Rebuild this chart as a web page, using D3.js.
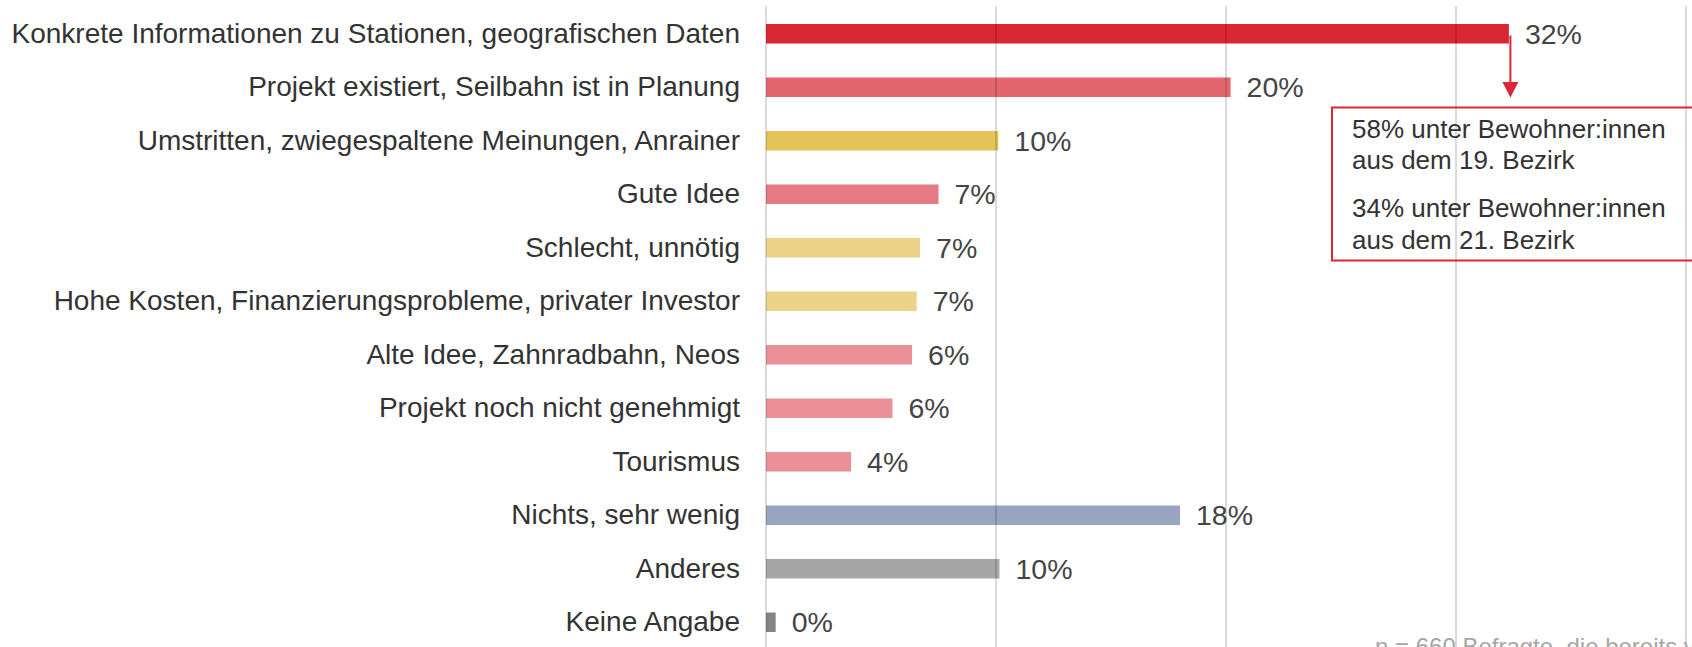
<!DOCTYPE html>
<html>
<head>
<meta charset="utf-8">
<script src="https://cdn.jsdelivr.net/npm/d3@7"></script>
<style>
  body { margin: 0; background: #fff; }
  svg { display: block; font-family: "Liberation Sans", Arial, sans-serif; }
</style>
</head>
<body>
<svg width="1692" height="647"></svg>
<script>
// Data
var categories = [
  "Konkrete Informationen zu Stationen, geografischen Daten",
  "Projekt existiert, Seilbahn ist in Planung",
  "Umstritten, zwiegespaltene Meinungen, Anrainer",
  "Gute Idee",
  "Schlecht, unnötig",
  "Hohe Kosten, Finanzierungsprobleme, privater Investor",
  "Alte Idee, Zahnradbahn, Neos",
  "Projekt noch nicht genehmigt",
  "Tourismus",
  "Nichts, sehr wenig",
  "Anderes",
  "Keine Angabe"
];
var values = [32.3, 20.2, 10.1, 7.5, 6.7, 6.55, 6.35, 5.5, 3.7, 18.0, 10.15, 0.42];
var valueLabels = ["32%", "20%", "10%", "7%", "7%", "7%", "6%", "6%", "4%", "18%", "10%", "0%"];
var colors = ["#d92834", "#e3666f", "#e5c359", "#e67b83", "#edd388", "#edd388",
              "#eb9096", "#eb9096", "#eb9096", "#98a5c0", "#a6a6a6", "#858585"];
var gridTicks = [0, 10, 20, 30, 40];
var noteLines = [
  ["58% unter Bewohner:innen", "aus dem 19. Bezirk"],
  ["34% unter Bewohner:innen", "aus dem 21. Bezirk"]
];
var footnote = "n = 660 Befragte, die bereits von der Seilbahn gehört haben";

var svg = d3.select("svg"),
    width = +svg.attr("width"),
    height = +svg.attr("height");

var x = d3.scaleLinear()
    .domain([0, 40])
    .range([766, 1686]);

var y = d3.scaleBand()
    .domain(categories)
    .range([7, 649])
    .paddingInner(0.635)
    .paddingOuter(0.3175);

// Bars
svg.append("g")
  .selectAll("rect")
  .data(categories)
  .enter()
  .append("rect")
    .attr("x", x(0))
    .attr("y", function(d){ return y(d) })
    .attr("width", function(d, i){ return x(values[i]) - x(0) })
    .attr("height", y.bandwidth())
    .attr("fill", function(d, i){ return colors[i] })

// Grid lines (drawn over the bars, semi transparent)
svg.append("g")
  .selectAll("line")
  .data(gridTicks)
  .enter()
  .append("line")
    .attr("x1", function(d){ return x(d) })
    .attr("x2", function(d){ return x(d) })
    .attr("y1", 6)
    .attr("y2", height)
    .attr("stroke", "rgba(0,0,0,0.14)")
    .attr("stroke-width", 2)

// Category labels
svg.append("g")
  .selectAll("text")
  .data(categories)
  .enter()
  .append("text")
    .attr("x", 740)
    .attr("y", function(d){ return y(d) + y.bandwidth() / 2 })
    .attr("dy", "0.33em")
    .attr("text-anchor", "end")
    .attr("font-size", "28px")
    .attr("fill", "#333")
    .text(function(d){ return d })

// Value labels
svg.append("g")
  .selectAll("text")
  .data(categories)
  .enter()
  .append("text")
    .attr("x", function(d, i){ return x(values[i]) + 16 })
    .attr("y", function(d){ return y(d) + y.bandwidth() / 2 })
    .attr("dy", "0.35em")
    .attr("font-size", "28.5px")
    .attr("fill", "#444")
    .text(function(d, i){ return valueLabels[i] })

// Annotation: arrow from first bar to box
var ax = x(values[0]) + 1.5,
    ay = y(categories[0]) + y.bandwidth() - 8;
svg.append("line")
    .attr("x1", ax).attr("x2", ax)
    .attr("y1", ay).attr("y2", 83)
    .attr("stroke", "#d92834")
    .attr("stroke-width", 2)
svg.append("path")
    .attr("d", "M" + (ax - 8) + ",82 L" + (ax + 8) + ",82 L" + ax + ",97.5 Z")
    .attr("fill", "#d92834")

svg.append("rect")
    .attr("x", 1332)
    .attr("y", 107.5)
    .attr("width", 400)
    .attr("height", 153)
    .attr("fill", "none")
    .attr("stroke", "#d92834")
    .attr("stroke-width", 2)

var note = svg.append("g").attr("font-size", "26px").attr("fill", "#333");
var baselines = [[138, 169], [217, 249]];
noteLines.forEach(function(par, p){
  par.forEach(function(line, l){
    note.append("text")
      .attr("x", 1352)
      .attr("y", baselines[p][l])
      .text(line)
  })
})

// Footnote (cut off at the bottom edge, as in the original)
svg.append("text")
    .attr("x", 1375)
    .attr("y", 655)
    .attr("font-size", "24px")
    .attr("fill", "#a6a6a6")
    .text(footnote)
</script>
</body>
</html>
